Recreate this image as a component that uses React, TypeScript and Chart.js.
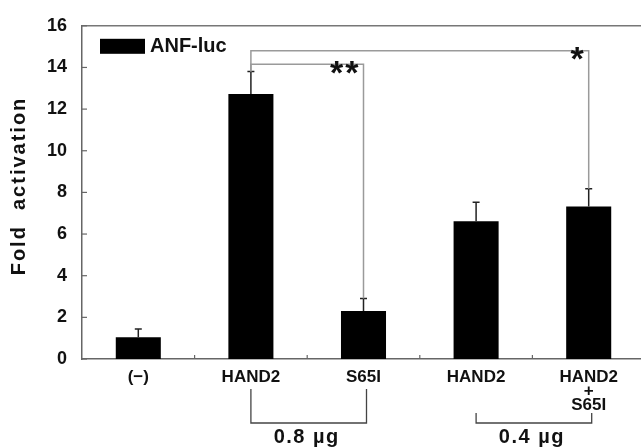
import React, { useEffect, useRef } from "react";
import { Chart, registerables } from "chart.js";

Chart.register(...registerables);

// ---- data ----
const categories: string[][] = [["(−)"], ["HAND2"], ["S65I"], ["HAND2"], ["HAND2", "+", "S65I"]];
const foldActivation = [1.04, 12.73, 2.31, 6.62, 7.32];
const errorUp = [0.4, 1.08, 0.59, 0.91, 0.85];
const seriesLabel = "ANF-luc";
const yTitle = "Fold  activation";
const yMin = 0;
const yMax = 16;
const yStep = 2;

// significance brackets
const sigFrom = [1, 1];
const sigTo = [2, 4];
const sigLevel = [14.15, 14.8];
const sigLabel = ["**", "*"];

// dose group brackets
const doseFrom = [1, 3];
const doseTo = [2, 4];
const doseLabel = ["0.8 µg", "0.4 µg"];

const FONT = "Arial, 'Liberation Sans', Helvetica, sans-serif";

const annotatePlugin = {
  id: "annotate",
  afterDatasetsDraw(chart: any) {
    const { ctx, scales } = chart;
    const y = scales.y;
    const meta = chart.getDatasetMeta(0);
    ctx.save();
    // error bars
    ctx.strokeStyle = "#222";
    ctx.lineWidth = 1.5;
    meta.data.forEach((bar: any, i: number) => {
      const top = y.getPixelForValue(foldActivation[i] + errorUp[i]);
      ctx.beginPath();
      ctx.moveTo(bar.x, bar.y);
      ctx.lineTo(bar.x, top);
      ctx.moveTo(bar.x - 3.5, top);
      ctx.lineTo(bar.x + 3.5, top);
      ctx.stroke();
    });
    // significance brackets
    ctx.strokeStyle = "#9a9a9a";
    ctx.lineWidth = 1.5;
    sigFrom.forEach((f, k) => {
      const t = sigTo[k];
      const xf = meta.data[f].x;
      const xt = meta.data[t].x;
      const yl = y.getPixelForValue(sigLevel[k]);
      const yf = y.getPixelForValue(foldActivation[f] + errorUp[f]);
      const yt = y.getPixelForValue(foldActivation[t] + errorUp[t]);
      ctx.beginPath();
      ctx.moveTo(xf, yf);
      ctx.lineTo(xf, yl);
      ctx.lineTo(xt, yl);
      ctx.lineTo(xt, yt);
      ctx.stroke();
      ctx.fillStyle = "#111";
      ctx.font = `bold 34px ${FONT}`;
      (ctx as any).letterSpacing = "2px";
      ctx.textAlign = "right";
      ctx.textBaseline = "top";
      ctx.fillText(sigLabel[k], xt - 3, yl - 7);
    });
    ctx.restore();
  },
  afterDraw(chart: any) {
    const { ctx, chartArea, scales } = chart;
    const x = scales.x;
    const y = scales.y;
    const meta = chart.getDatasetMeta(0);
    ctx.save();
    // top frame line
    ctx.strokeStyle = "#777";
    ctx.lineWidth = 1.5;
    ctx.beginPath();
    ctx.moveTo(chartArea.left, chartArea.top);
    ctx.lineTo(chartArea.right, chartArea.top);
    ctx.stroke();
    // inside tick marks
    ctx.strokeStyle = "#666";
    ctx.lineWidth = 1.2;
    y.ticks.forEach((t: any) => {
      const py = y.getPixelForValue(t.value);
      ctx.beginPath();
      ctx.moveTo(chartArea.left, py);
      ctx.lineTo(chartArea.left + 5, py);
      ctx.stroke();
    });
    for (let i = 0; i < categories.length - 1; i++) {
      const px = (x.getPixelForValue(i) + x.getPixelForValue(i + 1)) / 2;
      ctx.beginPath();
      ctx.moveTo(px, chartArea.bottom);
      ctx.lineTo(px, chartArea.bottom - 4);
      ctx.stroke();
    }
    // y title
    ctx.save();
    ctx.translate(19, 186);
    ctx.rotate(-Math.PI / 2);
    ctx.fillStyle = "#111";
    ctx.font = `bold 20px ${FONT}`;
    (ctx as any).letterSpacing = "2px";
    ctx.textAlign = "center";
    ctx.textBaseline = "middle";
    ctx.fillText(yTitle, 0, 0);
    ctx.restore();
    // legend
    const ds = chart.data.datasets[0];
    ctx.fillStyle = ds.backgroundColor;
    ctx.fillRect(chartArea.left + 18, chartArea.top + 13, 45, 15);
    ctx.fillStyle = "#111";
    ctx.font = `bold 20px ${FONT}`;
    ctx.textAlign = "left";
    ctx.textBaseline = "middle";
    ctx.fillText(ds.label, chartArea.left + 68, chartArea.top + 21);
    // dose brackets
    const drops = [30, 54];
    ctx.strokeStyle = "#444";
    ctx.lineWidth = 1.3;
    doseFrom.forEach((f, k) => {
      const xf = meta.data[f].x;
      const xt = meta.data[doseTo[k]].x + 3;
      const yTop = chartArea.bottom + drops[k];
      const yBot = chartArea.bottom + 64;
      ctx.beginPath();
      ctx.moveTo(xf, yTop);
      ctx.lineTo(xf, yBot);
      ctx.lineTo(xt, yBot);
      ctx.lineTo(xt, yTop);
      ctx.stroke();
      ctx.fillStyle = "#111";
      ctx.font = `bold 20px ${FONT}`;
      (ctx as any).letterSpacing = "1.5px";
      ctx.textAlign = "center";
      ctx.textBaseline = "middle";
      ctx.fillText(doseLabel[k], (xf + xt) / 2 - 2, chartArea.bottom + 78);
    });
    ctx.restore();
  },
};

export default function App() {
  const ref = useRef<HTMLCanvasElement>(null);
  useEffect(() => {
    if (!ref.current) return;
    const chart = new Chart(ref.current, {
      type: "bar",
      data: {
        labels: categories,
        datasets: [
          {
            label: seriesLabel,
            data: foldActivation,
            backgroundColor: "#000",
            borderWidth: 0,
            categoryPercentage: 0.4,
            barPercentage: 1,
          },
        ],
      },
      options: {
        responsive: false,
        animation: false,
        layout: { padding: { left: 0, right: 15, top: 15, bottom: 0 } },
        plugins: {
          legend: { display: false },
          tooltip: { enabled: false },
        },
        scales: {
          x: {
            grid: { display: false, drawTicks: false },
            border: { display: true, color: "#666", width: 1.5 },
            ticks: {
              color: "#111",
              padding: 12,
              maxRotation: 0,
              autoSkip: false,
              font: { family: FONT, size: 17, weight: "bold", lineHeight: 0.8 },
            },
            afterFit: (s: any) => {
              s.height = 89;
            },
          },
          y: {
            min: yMin,
            max: yMax,
            grid: { display: false, drawTicks: false },
            border: { display: true, color: "#666", width: 1.5 },
            ticks: {
              stepSize: yStep,
              color: "#111",
              padding: 15,
              font: { family: FONT, size: 18, weight: "bold" },
            },
            afterFit: (s: any) => {
              s.width = 82;
            },
          },
        },
      },
      plugins: [annotatePlugin],
    });
    return () => chart.destroy();
  }, []);
  return (
    <div style={{ position: "fixed", left: 0, top: 0, width: 641, height: 448, overflow: "hidden", background: "#fff" }}>
      <canvas ref={ref} width={660} height={448} />
    </div>
  );
}
